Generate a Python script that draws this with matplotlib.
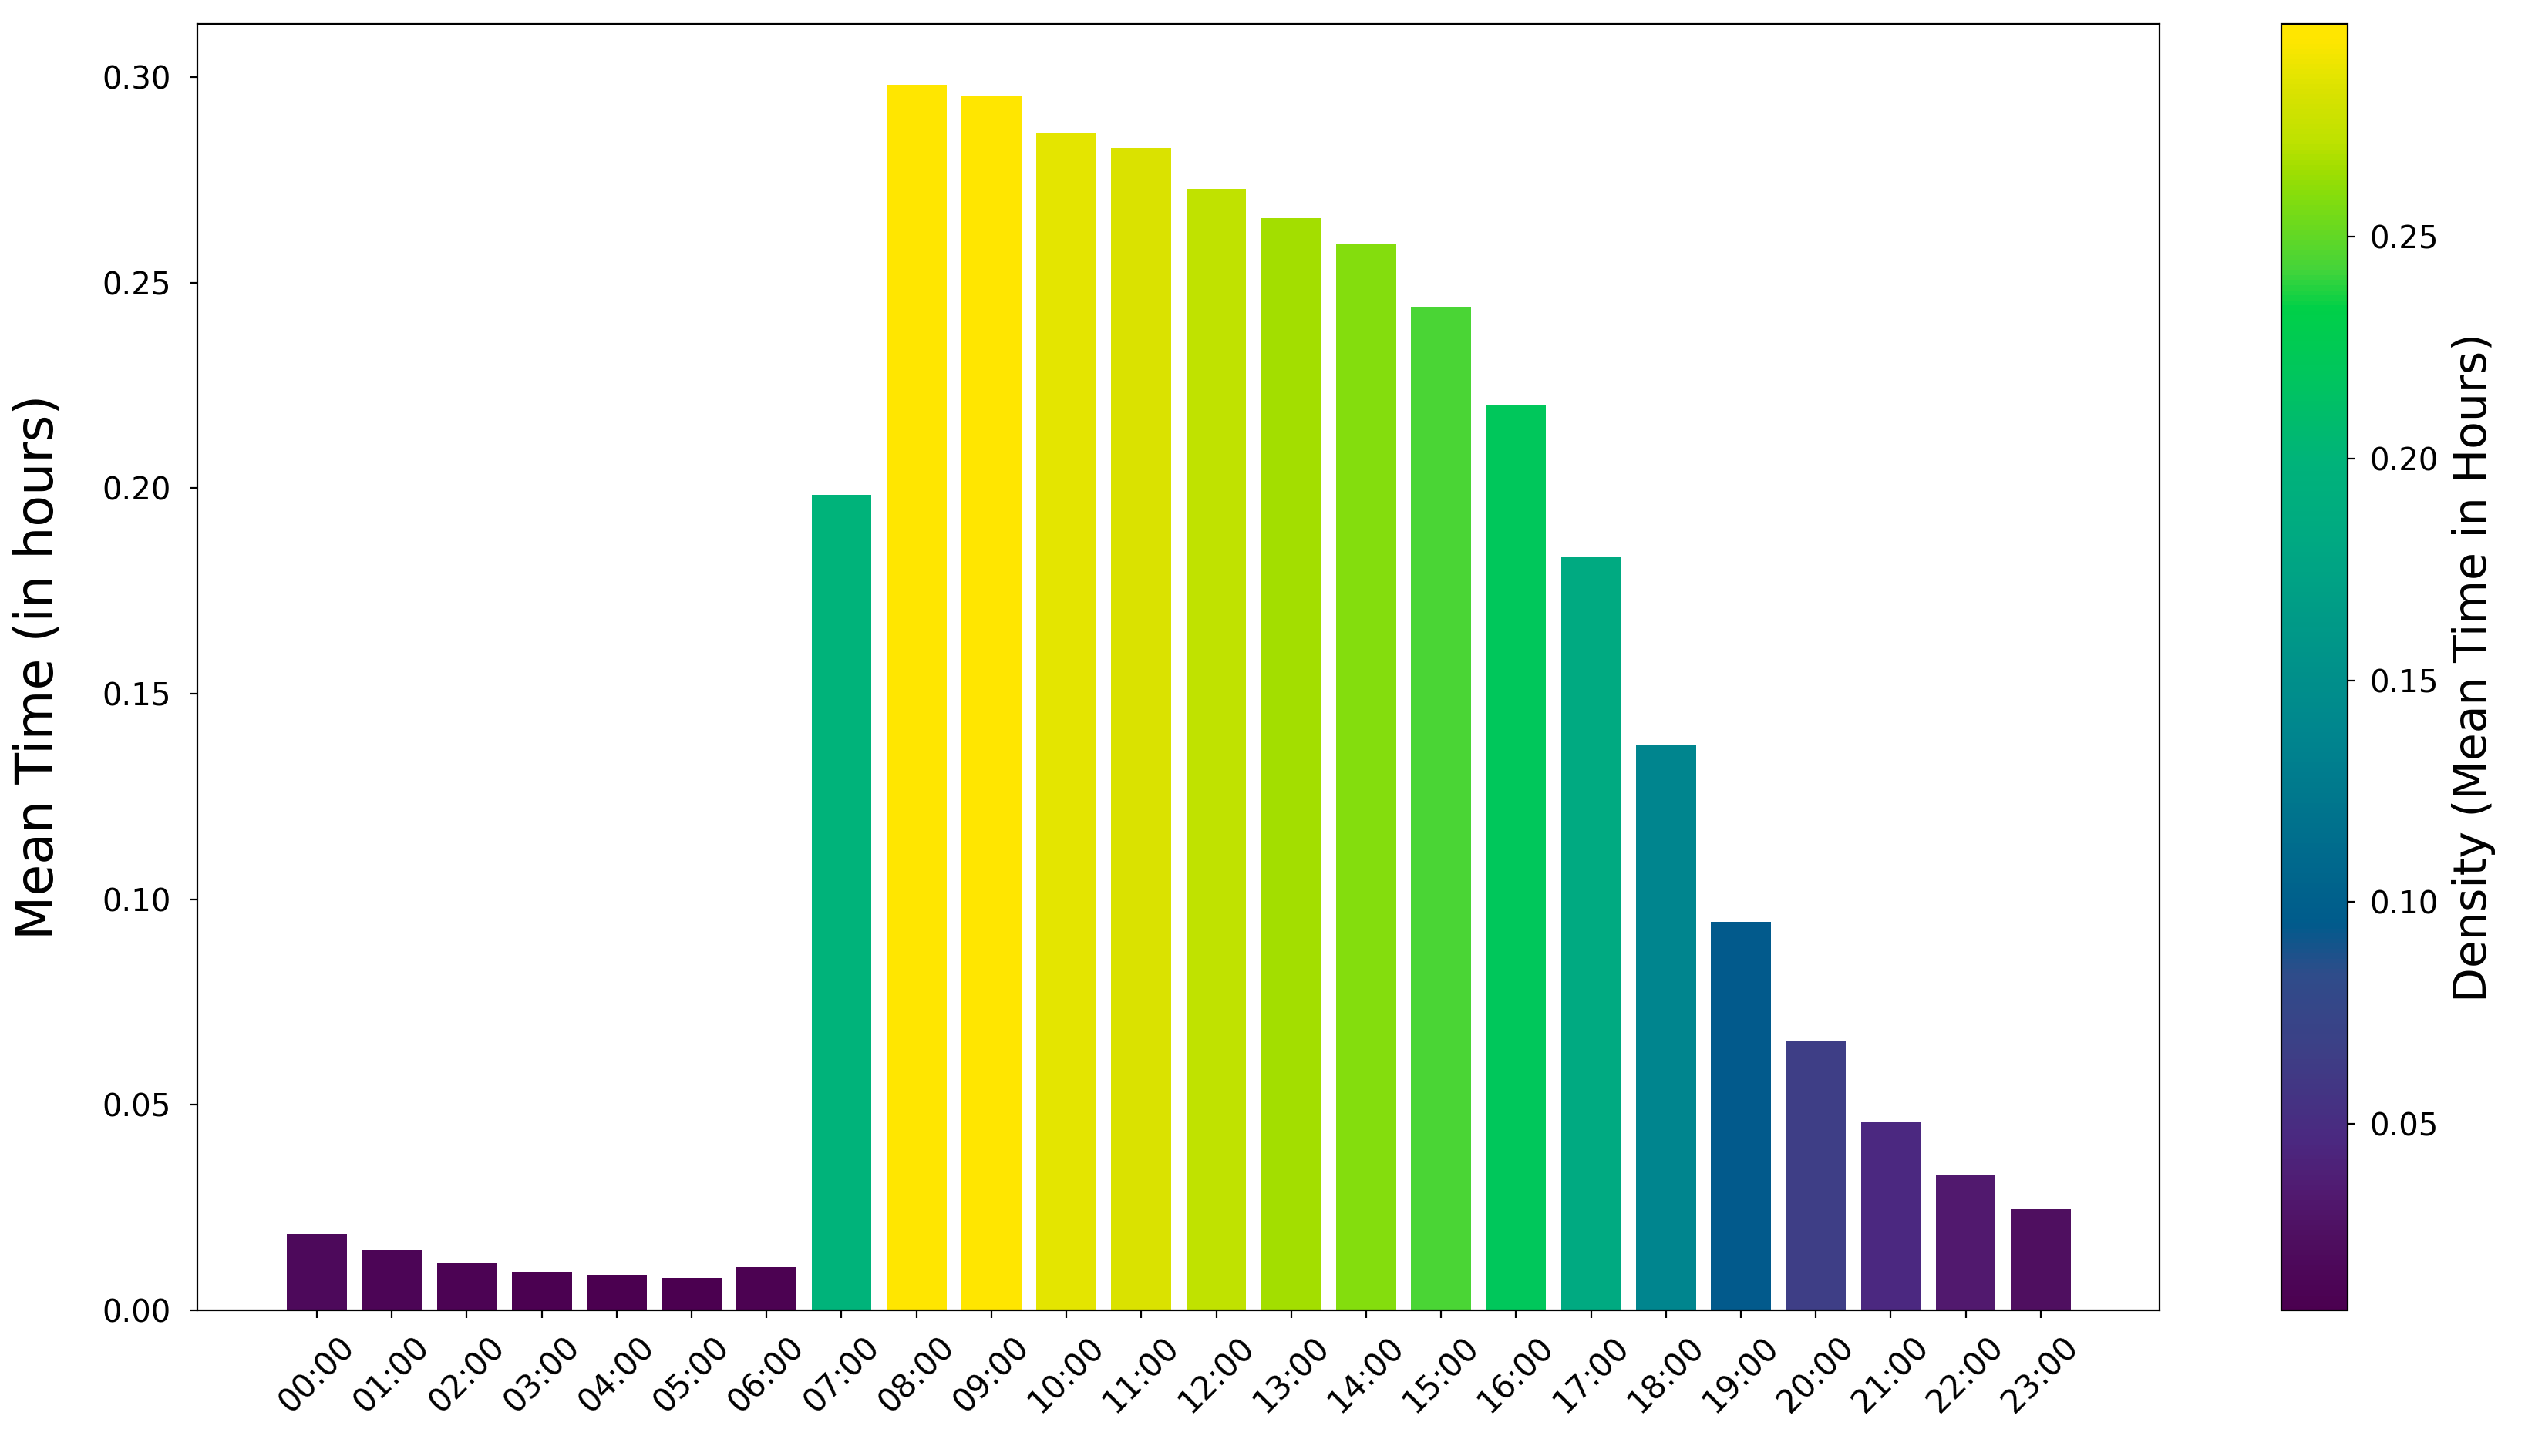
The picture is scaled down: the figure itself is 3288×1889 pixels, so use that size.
import numpy as np
import matplotlib
matplotlib.use("Agg")
import matplotlib.pyplot as plt
from matplotlib.colors import Normalize, LinearSegmentedColormap

# mean time per hour of day
hours = ["00:00", "01:00", "02:00", "03:00", "04:00", "05:00", "06:00", "07:00",
         "08:00", "09:00", "10:00", "11:00", "12:00", "13:00", "14:00", "15:00",
         "16:00", "17:00", "18:00", "19:00", "20:00", "21:00", "22:00", "23:00"]
mean_time = [0.0185, 0.0146, 0.0114, 0.0094, 0.0087, 0.0079, 0.0106, 0.1984,
             0.2980, 0.2953, 0.2862, 0.2827, 0.2728, 0.2657, 0.2594, 0.2441,
             0.2201, 0.1831, 0.1374, 0.0945, 0.0654, 0.0457, 0.0331, 0.0248]

# colour ramp as it looks in the picture (viridis-like, more saturated)
ramp_pos = [0.0, 0.06, 0.09, 0.13, 0.20, 0.26, 0.30, 0.45, 0.60, 0.66,
            0.73, 0.78, 0.81, 0.87, 0.89, 0.91, 0.95, 0.96, 0.99, 1.0]
ramp_col = ["#4b0050", "#4f1062", "#511a70", "#4b2880", "#3d3f86", "#2f4c8a",
            "#005b8c", "#00868e", "#00a982", "#00b37a", "#00c65c", "#00d048",
            "#44d43a", "#88dd0a", "#a3de00", "#bde200", "#dbe200", "#e3e500",
            "#ffe600", "#ffe600"]
cmap = LinearSegmentedColormap.from_list("pic_viridis", list(zip(ramp_pos, ramp_col)))

norm = Normalize(vmin=min(mean_time), vmax=max(mean_time))
colors = cmap(norm(mean_time))

fig = plt.figure(figsize=(16.44, 9.445), dpi=200)
ax = fig.add_axes([0.078, 0.100, 0.774, 0.8836])
cax = fig.add_axes([0.900, 0.100, 0.026, 0.8836])

x = np.arange(len(hours))
ax.bar(x, mean_time, color=colors, width=0.8)
ax.set_xticks(x)
ax.set_xticklabels(hours, rotation=45)
ax.tick_params(axis="x", labelsize=15, pad=6)
ax.tick_params(axis="y", labelsize=14.5, pad=9)
ax.set_ylabel("Mean Time (in hours)", fontsize=24, labelpad=18)

sm = plt.cm.ScalarMappable(cmap=cmap, norm=norm)
sm.set_array([])
cbar = fig.colorbar(sm, cax=cax)
cbar.ax.tick_params(labelsize=14.5, pad=7)
cbar.set_label("Density (Mean Time in Hours)", fontsize=21, labelpad=6)

fig.savefig("out.png", dpi=200)
